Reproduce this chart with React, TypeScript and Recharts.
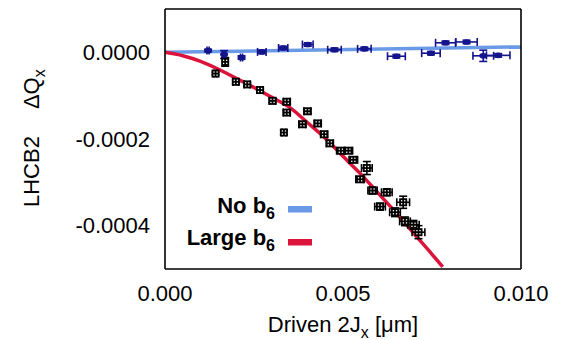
import React from 'react';
import { ComposedChart, Scatter, Line, XAxis, YAxis, ErrorBar, Customized } from 'recharts';

// ---- data ----
const xTicks = [0, 0.005, 0.01];
const yTicks = [-0.0004, -0.0002, 0];

// "No b6" measurements (navy)
const noB6X = [0.00121, 0.00166, 0.00215, 0.00272, 0.00332, 0.00401, 0.00476, 0.0056, 0.0065, 0.00747, 0.00788, 0.00847, 0.00894, 0.00936];
const noB6Y = [0.000004, -0.000005, -0.000012, 0.000001, 0.00001, 0.000018, 0.000006, 0.000008, -0.000009, -0.000002, 0.000022, 0.000024, -0.000008, -0.000007];
const noB6Ex = [0.00003, 0.00005, 0.00003, 0.00012, 0.00013, 0.00015, 0.00019, 0.00019, 0.00025, 0.00026, 0.00028, 0.0003, 0.00029, 0.00033];
const noB6Ey = [0.000003, 0.000009, 0.000004, 0.000004, 0.000004, 0.000004, 0.000004, 0.000004, 0.000004, 0.000004, 0.000004, 0.000004, 0.000013, 0.000004];

// "Large b6" measurements (black)
const largeX = [0.00142, 0.00169, 0.00199, 0.00231, 0.00267, 0.00302, 0.00342, 0.00342, 0.00334, 0.00386, 0.004, 0.00429, 0.00447, 0.00463, 0.00494, 0.00515, 0.00529, 0.00567, 0.00548, 0.00583, 0.00623, 0.00604, 0.00669, 0.00646, 0.00674, 0.00698, 0.00712];
const largeY = [-0.000049, -0.000022, -0.000068, -0.000074, -0.000087, -0.000112, -0.000114, -0.000139, -0.000185, -0.000166, -0.000136, -0.000164, -0.000189, -0.00021, -0.000227, -0.000227, -0.000248, -0.000267, -0.000293, -0.000319, -0.000323, -0.000356, -0.000346, -0.000369, -0.00039, -0.000398, -0.000415];
const largeEx = [0.00004, 0.00005, 0.00008, 0.00008, 0.00009, 0.00009, 0.0001, 0.0001, 0.00005, 0.0001, 0.0001, 0.0001, 0.0001, 0.0001, 0.00012, 0.00012, 0.00012, 0.00015, 0.00012, 0.00013, 0.00015, 0.00015, 0.00018, 0.00015, 0.00015, 0.00016, 0.00018];
const largeEy = [0.000003, 0.00001, 0.000004, 0.000004, 0.000004, 0.000004, 0.000005, 0.000005, 0.000005, 0.000005, 0.000005, 0.000005, 0.000005, 0.000006, 0.000006, 0.000006, 0.000006, 0.000015, 0.000006, 0.000008, 0.000008, 0.000008, 0.000014, 0.00001, 0.00001, 0.00001, 0.000015];

// model curves
const noB6LineX = [0, 0.01];
const noB6LineY = [0, 0.0000125];
const largeLineX = [0, 0.0005, 0.001, 0.0015, 0.002, 0.0025, 0.003, 0.0035, 0.004, 0.0045, 0.005, 0.0055, 0.006, 0.0065, 0.007, 0.0075, 0.0078];
const largeLineY = [0, -0.000008, -0.000021, -0.000039, -0.00006, -0.000081, -0.000104, -0.000127, -0.000162, -0.000198, -0.00024, -0.000281, -0.000326, -0.000371, -0.000419, -0.000466, -0.000495];

const legendLabels = ['No b', 'Large b'];
const legendSub = '6';

const NAVY = '#14148c';
const BLUE = '#6a9ae6';
const RED = '#dc143c';
const FONT = '"Liberation Sans", Arial, Helvetica, sans-serif';

const noB6Pts = noB6X.map((x, i) => ({ x, y: noB6Y[i], ex: noB6Ex[i], ey: noB6Ey[i] }));
const largePts = largeX.map((x, i) => ({ x, y: largeY[i], ex: largeEx[i], ey: largeEy[i] }));
const noB6Line = noB6LineX.map((x, i) => ({ x, y: noB6LineY[i] }));
const largeLine = largeLineX.map((x, i) => ({ x, y: largeLineY[i] }));

const NavyDot = (p: any) => (
  <ellipse cx={p.cx} cy={p.cy} rx={4} ry={2.8} fill={NAVY} />
);

const BlackDot = (p: any) => (
  <g>
    <rect x={p.cx - 4} y={p.cy - 4} width={8} height={8} fill="#000" />
    <rect x={p.cx - 2.2} y={p.cy - 2.2} width={1.3} height={1.3} fill="#fff" />
    <rect x={p.cx + 0.9} y={p.cy - 2.2} width={1.3} height={1.3} fill="#fff" />
    <rect x={p.cx - 2.2} y={p.cy + 0.9} width={1.3} height={1.3} fill="#fff" />
    <rect x={p.cx + 0.9} y={p.cy + 0.9} width={1.3} height={1.3} fill="#fff" />
  </g>
);

const Labels = () => (
  <g fontFamily={FONT} fill="#000">
    <text transform="translate(39,207) rotate(-90)" fontSize={22}>
      LHCB2
      <tspan dx={27}>ΔQ</tspan>
      <tspan dy={6} fontSize={16}>x</tspan>
    </text>
    <text x={343} y={332} fontSize={22} textAnchor="middle">
      Driven 2J
      <tspan dy={6} fontSize={16}>x</tspan>
      <tspan dy={-6}>{' [μm]'}</tspan>
    </text>
    <text x={275} y={213} fontSize={22} fontWeight="bold" textAnchor="end">
      {legendLabels[0]}
      <tspan dy={6} fontSize={16}>{legendSub}</tspan>
    </text>
    <rect x={288} y={206} width={24} height={6.5} fill={BLUE} />
    <text x={275} y={245} fontSize={22} fontWeight="bold" textAnchor="end">
      {legendLabels[1]}
      <tspan dy={6} fontSize={16}>{legendSub}</tspan>
    </text>
    <rect x={288} y={239} width={24} height={6.5} fill={RED} />
  </g>
);

const axisLine = { stroke: '#000', strokeWidth: 1.6 };
const tickLine = { stroke: '#000', strokeWidth: 1.2 };

export default function App() {
  return (
    <div style={{ position: 'absolute', left: 0, top: 0, width: 565, height: 340, background: '#fff' }}>
      <ComposedChart width={565} height={340} margin={{ top: 9, right: 44, bottom: 0, left: 0 }}>
        <XAxis
          dataKey="x" type="number" domain={[0, 0.01]} ticks={xTicks} allowDataOverflow
          height={71} tickSize={0} tickMargin={16} tickLine={false} axisLine={axisLine}
          tick={{ fill: '#000', fontSize: 22, fontFamily: FONT }}
          tickFormatter={(v: number) => v.toFixed(3)}
        />
        <YAxis
          dataKey="y" type="number" domain={[-0.0005, 0.0001]} ticks={yTicks} allowDataOverflow
          width={165} tickSize={0} tickMargin={15} tickLine={false} axisLine={axisLine}
          tick={{ fill: '#000', fontSize: 22, fontFamily: FONT }}
          tickFormatter={(v: number) => v.toFixed(4)}
        />
        <XAxis xAxisId="bm" dataKey="x" orientation="bottom" mirror type="number" domain={[0, 0.01]} ticks={xTicks}
          allowDataOverflow tick={false} tickSize={8} tickLine={tickLine} axisLine={false} />
        <XAxis xAxisId="top" dataKey="x" orientation="top" mirror type="number" domain={[0, 0.01]} ticks={xTicks}
          allowDataOverflow tick={false} tickSize={8} tickLine={tickLine} axisLine={axisLine} />
        <YAxis yAxisId="lm" dataKey="y" orientation="left" mirror type="number" domain={[-0.0005, 0.0001]} ticks={yTicks}
          allowDataOverflow tick={false} tickSize={8} tickLine={tickLine} axisLine={false} />
        <YAxis yAxisId="right" dataKey="y" orientation="right" mirror type="number" domain={[-0.0005, 0.0001]} ticks={yTicks}
          allowDataOverflow tick={false} tickSize={8} tickLine={tickLine} axisLine={axisLine} />

        <Line data={noB6Line} dataKey="y" stroke={BLUE} strokeWidth={3.5} dot={false} isAnimationActive={false} type="linear" />
        <Line data={largeLine} dataKey="y" stroke={RED} strokeWidth={3.5} dot={false} isAnimationActive={false} type="monotone" />

        <Scatter data={largePts} dataKey="y" fill="#000" shape={BlackDot} isAnimationActive={false}>
          <ErrorBar dataKey="ex" direction="x" width={4} stroke="#000" strokeWidth={1.6} />
          <ErrorBar dataKey="ey" direction="y" width={4} stroke="#000" strokeWidth={1.6} />
        </Scatter>
        <Scatter data={noB6Pts} dataKey="y" fill={NAVY} shape={NavyDot} isAnimationActive={false}>
          <ErrorBar dataKey="ex" direction="x" width={4} stroke={NAVY} strokeWidth={1.6} />
          <ErrorBar dataKey="ey" direction="y" width={4} stroke={NAVY} strokeWidth={1.6} />
        </Scatter>

        <Customized component={Labels} />
      </ComposedChart>
    </div>
  );
}
